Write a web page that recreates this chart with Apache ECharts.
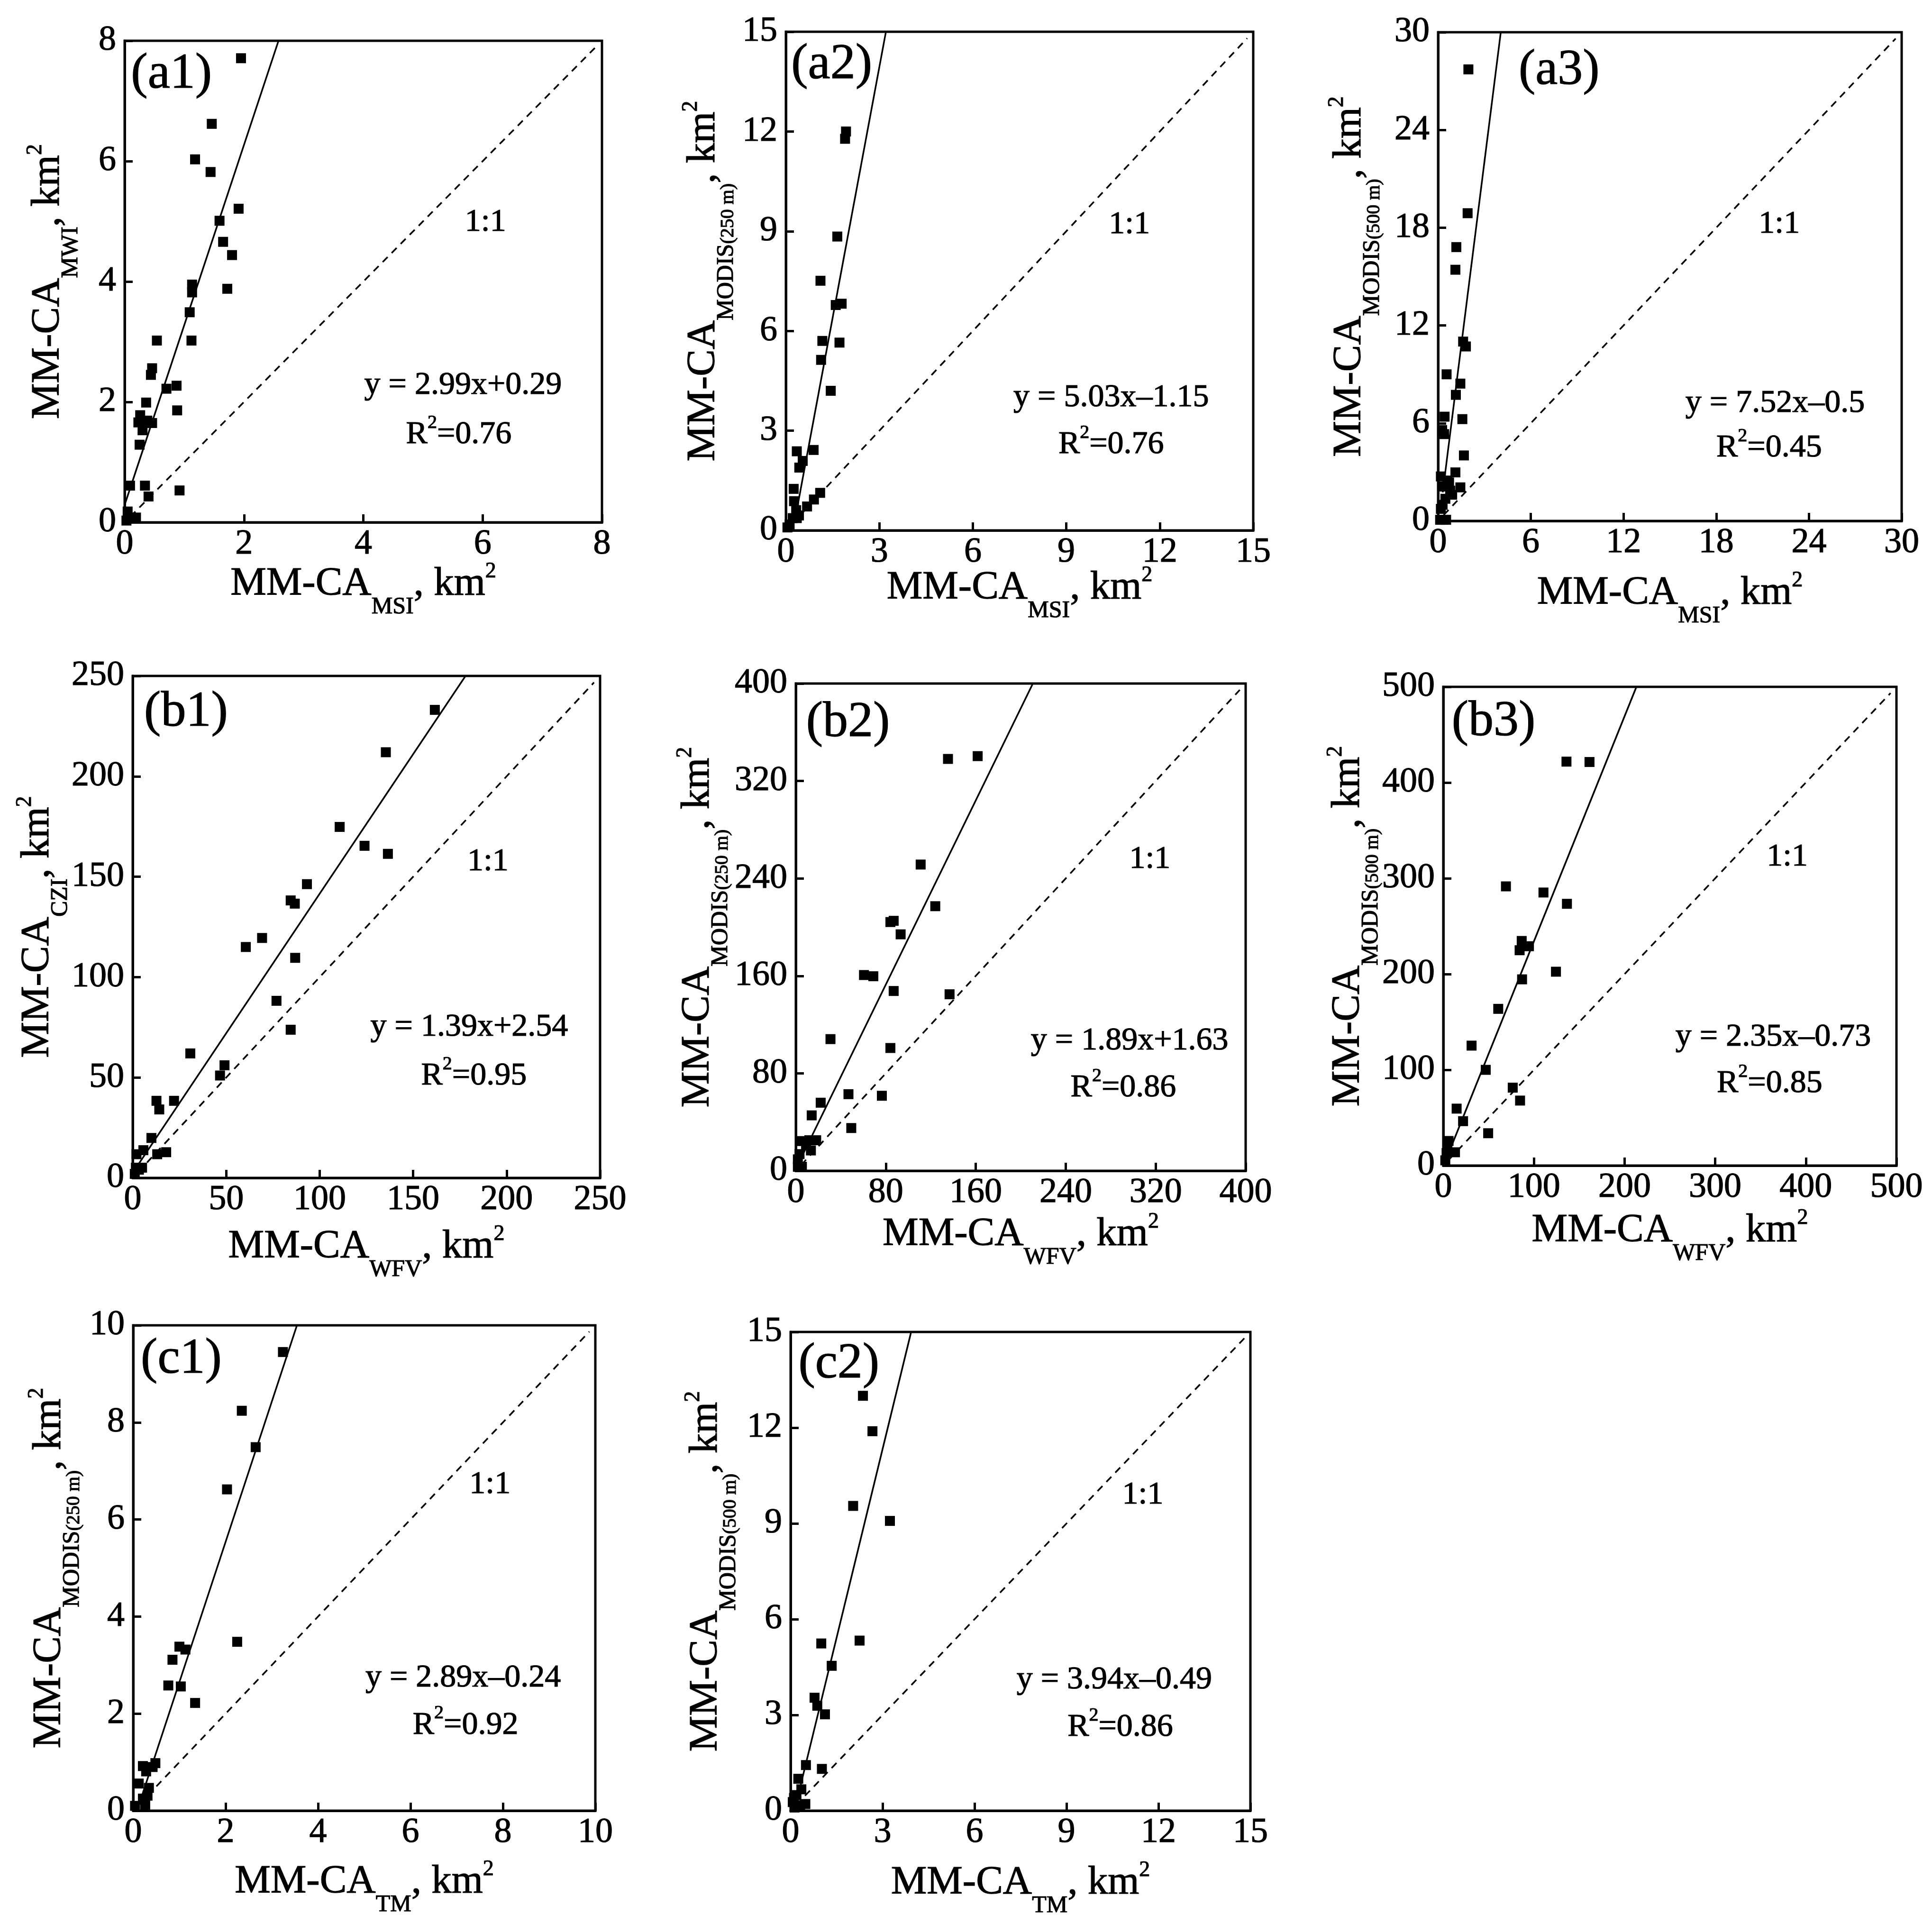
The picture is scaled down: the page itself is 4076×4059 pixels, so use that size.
<!DOCTYPE html>
<html><head><meta charset="utf-8">
<script src="https://cdn.jsdelivr.net/npm/echarts@6/dist/echarts.min.js"></script>
<style>html,body{margin:0;padding:0;background:#fff}#c{width:4076px;height:4059px}</style>
</head><body><div id="c"></div>
<script>
// ---------- data ----------
const a1X=[1.95,1.46,1.18,1.44,1.91,1.59,1.65,1.80,1.72,1.13,1.13,1.09,1.12,0.54,0.46,0.44,0.70,0.87,0.88,0.36,0.26,0.23,0.38,0.46,0.30,0.25,0.09,0.34,0.92,0.40,0.05,0.09,0.19,0.03];
const a1Y=[7.71,6.62,6.03,5.82,5.21,5.01,4.66,4.44,3.88,3.95,3.82,3.49,3.02,3.02,2.56,2.45,2.22,2.27,1.86,1.99,1.78,1.66,1.69,1.65,1.53,1.29,0.61,0.61,0.53,0.43,0.18,0.08,0.08,0.03];
const a2X=[1.93,1.90,1.65,1.11,1.60,1.79,1.17,1.72,1.13,1.44,0.35,0.89,0.54,0.43,0.25,1.10,0.90,0.68,0.26,0.33,0.42,0.22,0.12,0.05,0.35];
const a2Y=[12.0,11.78,8.84,7.51,6.78,6.82,5.70,5.65,5.13,4.20,2.38,2.42,2.09,1.89,1.25,1.13,0.93,0.72,0.88,0.61,0.45,0.37,0.18,0.09,0.37];
const a3X=[1.96,1.91,1.18,1.12,1.62,1.80,0.55,1.44,1.15,0.42,1.57,0.26,0.39,1.67,1.12,0.18,0.60,0.39,1.44,0.78,0.91,0.47,0.29,0.18,0.52,0.13,0.71];
const a3Y=[27.72,18.89,16.81,15.42,11.01,10.71,9.0,8.43,7.74,6.40,6.25,5.58,5.33,4.02,2.98,2.73,2.48,2.11,2.06,1.86,1.61,1.36,0.99,0.74,0.07,0.07,2.36];
const b1X=[161.6,135.4,110.7,124.0,136.5,93.2,84.5,86.7,69.2,60.5,86.9,76.9,84.5,30.8,49.1,46.7,12.7,22.1,14.2,10.0,5.7,2.0,13.1,17.9,5.0,1.7,1.1,3.3];
const b1Y=[233.1,212.0,174.8,165.4,161.4,146.3,138.2,136.6,119.5,115.0,109.6,88.2,73.8,62.0,56.1,51.0,38.4,38.4,34.1,19.9,13.8,11.8,11.8,12.8,5.1,5.1,2.0,4.1];
const b2X=[161.7,135.3,111.0,124.0,84.1,87.0,93.2,60.6,68.9,87.0,136.7,30.8,84.1,46.8,76.5,22.1,14.1,49.3,5.4,12.0,18.1,13.4,3.3,1.8,5.4,1.8,9.1];
const b2Y=[340.4,338.1,251.4,217.2,204.2,205.2,194.1,160.7,159.7,147.6,144.9,108.1,100.8,62.9,61.6,55.9,45.5,35.1,24.4,25.1,25.1,16.7,13.7,9.4,3.3,3.3,21.1];
const b3X=[135.9,161.3,69.1,110.5,136.4,86.5,94.5,84.2,124.3,86.9,60.6,31.2,46.8,76.6,84.7,14.7,21.8,49.5,5.8,12.9,3.6,2.2,4.5];
const b3Y=[421.9,421.5,291.6,285.2,273.4,234.6,229.1,224.9,202.5,194.5,163.7,125.3,100.0,81.4,67.9,59.5,46.4,33.8,25.7,13.9,13.1,5.5,20.3];
const c1X=[3.24,2.35,2.65,2.03,2.25,1.0,1.13,0.85,0.76,1.03,1.34,0.48,0.21,0.28,0.12,0.34,0.31,0.21,0.26,0.04,0.42];
const c1Y=[9.45,8.24,7.49,6.62,3.48,3.38,3.32,3.11,2.58,2.56,2.22,0.98,0.92,0.81,0.56,0.47,0.31,0.25,0.12,0.10,0.90];
const c2X=[2.36,2.67,2.04,3.24,1.0,2.25,1.34,0.78,0.87,1.12,0.50,1.02,0.25,0.35,0.19,0.11,0.48,0.31,0.13,0.07];
const c2Y=[13.0,11.89,9.55,9.08,5.24,5.33,4.54,3.54,3.29,3.02,1.43,1.31,1.0,0.67,0.49,0.40,0.21,0.14,0.10,0.27];

const panelLabels=['(a1)','(a2)','(a3)','(b1)','(b2)','(b3)','(c1)','(c2)'];
const axisMax=[8,15,30,250,400,500,10,15];
const axisInterval=[2,3,6,50,80,100,2,3];
const xSubs=['MSI','MSI','MSI','WFV','WFV','WFV','TM','TM'];
const ySubs=['MWI','MODIS','MODIS','CZI','MODIS','MODIS','MODIS','MODIS'];
const ySubSmall=['','(250 m)','(500 m)','','(250 m)','(500 m)','(250 m)','(500 m)'];
const slopes=[2.99,5.03,7.52,1.39,1.89,2.35,2.89,3.94];
const intercepts=[0.29,-1.15,-0.5,2.54,1.63,-0.73,-0.24,-0.49];
const eqLabels=['y = 2.99x+0.29','y = 5.03x\u20131.15','y = 7.52x\u20130.5','y = 1.39x+2.54','y = 1.89x+1.63','y = 2.35x\u20130.73','y = 2.89x\u20130.24','y = 3.94x\u20130.49'];
const r2Labels=['0.76','0.76','0.45','0.95','0.86','0.85','0.92','0.86'];
const fitStartX=[0,0.3,0.3,0,0,1,0.12,0.2];
const oneToOneLabel='1:1';

// ---------- layout ----------
const grids=[
  {left:263,top:86,width:1007,height:1016},
  {left:1658,top:67,width:986,height:1052},
  {left:3034,top:68,width:978,height:1031},
  {left:280,top:1426,width:986,height:1059},
  {left:1679,top:1442,width:949,height:1028},
  {left:3045,top:1449,width:956,height:1010},
  {left:281,top:2796,width:975,height:1024},
  {left:1668,top:2810,width:970,height:1010}
];
const textPos=[
  {lab:[0.098,0.93],one:[0.756,0.623],eq:[0.709,0.284],r2:[0.70,0.182]},
  {lab:[0.098,0.933],one:[0.735,0.613],eq:[0.696,0.266],r2:[0.696,0.172]},
  {lab:[0.261,0.921],one:[0.736,0.607],eq:[0.727,0.24],r2:[0.714,0.149]},
  {lab:[0.114,0.927],one:[0.76,0.63],eq:[0.72,0.30],r2:[0.73,0.203]},
  {lab:[0.116,0.919],one:[0.787,0.639],eq:[0.742,0.266],r2:[0.728,0.17]},
  {lab:[0.111,0.927],one:[0.759,0.644],eq:[0.728,0.268],r2:[0.72,0.171]},
  {lab:[0.104,0.93],one:[0.772,0.672],eq:[0.714,0.273],r2:[0.719,0.176]},
  {lab:[0.105,0.933],one:[0.766,0.659],eq:[0.704,0.273],r2:[0.717,0.174]}
];
const xNameGap=[58,49,80,73,62,65,78,80];
const yNameGap=[88,100,113,127,133,127,103,105];

const F='Liberation Serif';
const TB={textBorderColor:'#000',textBorderWidth:1.2};
const panels=[[a1X,a1Y],[a2X,a2Y],[a3X,a3Y],[b1X,b1Y],[b2X,b2Y],[b3X,b3Y],[c1X,c1Y],[c2X,c2Y]];

const nameRich={
  m:Object.assign({fontSize:85,fontFamily:F,color:'#000'},TB),
  s:Object.assign({fontSize:50,fontFamily:F,color:'#000',padding:[96,0,0,0]},TB),
  ss:Object.assign({fontSize:40,fontFamily:F,color:'#000',padding:[102,0,0,0]},TB),
  p:Object.assign({fontSize:46,fontFamily:F,color:'#000',padding:[0,0,54,0]},TB)
};
function axisName(sub,small){
  return '{m|MM-CA}{s|'+sub+'}'+(small?'{ss|'+small+'}':'')+'{m|, km}{p|2}';
}

const grid=[],xAxis=[],yAxis=[],series=[];
panels.forEach((p,i)=>{
  const mx=axisMax[i];
  grid.push(Object.assign({show:true,borderColor:'#000',borderWidth:5,backgroundColor:'#fff',containLabel:false,outerBoundsMode:'none'},grids[i]));
  const common={gridIndex:i,type:'value',min:0,max:mx,interval:axisInterval[i],nameLocation:'middle',nameMoveOverlap:false,
    nameTextStyle:{fontFamily:F,fontSize:85,color:'#000',rich:nameRich},
    axisLine:{show:true,onZero:false,lineStyle:{color:'#000',width:5}},
    axisTick:{show:true,inside:true,length:17,lineStyle:{color:'#000',width:5}},
    splitLine:{show:false}};
  xAxis.push(Object.assign({},common,{name:axisName(xSubs[i],''),nameGap:xNameGap[i],
    axisLabel:Object.assign({fontSize:74,color:'#000',fontFamily:F,margin:10},TB)}));
  yAxis.push(Object.assign({},common,{name:axisName(ySubs[i],ySubSmall[i]),nameGap:yNameGap[i],nameRotate:90,
    axisLabel:Object.assign({fontSize:74,color:'#000',fontFamily:F,margin:18},TB)}));
  // 1:1 line
  series.push({type:'line',xAxisIndex:i,yAxisIndex:i,symbol:'none',silent:true,z:2,
    lineStyle:{color:'#000',width:3.5,type:[15,12],opacity:1},
    data:[[0.012*mx,0.012*mx],[0.987*mx,0.987*mx]]});
  // fit line
  const s=slopes[i],b=intercepts[i];
  let x1=(mx-b)/s; if(x1>mx)x1=mx;
  const x0=fitStartX[i];
  series.push({type:'line',xAxisIndex:i,yAxisIndex:i,symbol:'none',silent:true,z:3,
    lineStyle:{color:'#000',width:3.5,opacity:1},
    data:[[x0,s*x0+b],[x1,s*x1+b]]});
  // points
  series.push({type:'scatter',xAxisIndex:i,yAxisIndex:i,symbol:'rect',symbolSize:21,z:4,
    itemStyle:{color:'#000',opacity:1},data:p[0].map((x,k)=>[x,p[1][k]])});
  // annotations
  const tp=textPos[i];
  const lab=(pos,txt,size)=>({value:[pos[0]*mx,pos[1]*mx],label:{formatter:txt,fontSize:size}});
  series.push({type:'scatter',xAxisIndex:i,yAxisIndex:i,symbolSize:0,silent:true,z:5,
    itemStyle:{opacity:1},
    label:Object.assign({show:true,position:'inside',color:'#000',fontFamily:F,opacity:1,
      rich:{t:Object.assign({fontSize:68,fontFamily:F,color:'#000'},TB),sup:Object.assign({fontSize:40,fontFamily:F,color:'#000',padding:[0,0,50,0]},TB)}},TB),
    data:[lab(tp.lab,panelLabels[i],106),lab(tp.one,oneToOneLabel,68),lab(tp.eq,eqLabels[i],68),
      lab(tp.r2,'{t|R}{sup|2}{t|='+r2Labels[i]+'}',68)]});
});

const chart=echarts.init(document.getElementById('c'),null,{renderer:'canvas'});
chart.setOption({animation:false,backgroundColor:'#fff',grid,xAxis,yAxis,series});
</script></body></html>
